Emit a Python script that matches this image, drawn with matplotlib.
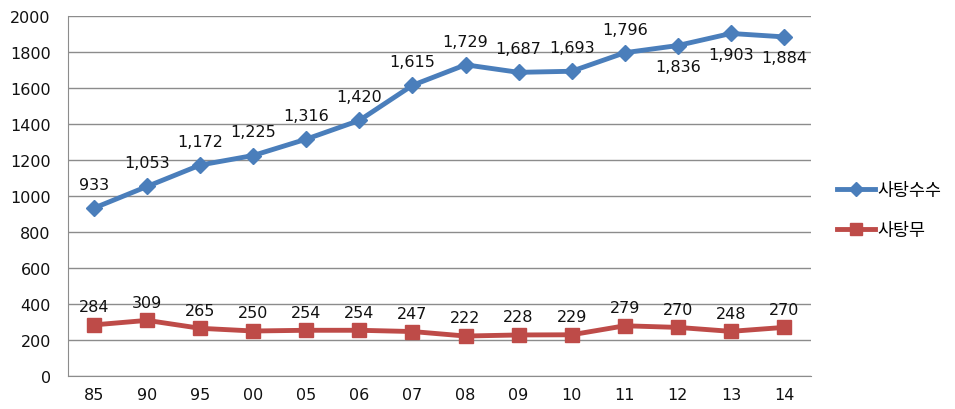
import matplotlib
matplotlib.use("Agg")
import matplotlib.pyplot as plt
from matplotlib.lines import Line2D
import numpy as np

plt.rcParams['font.family'] = ['DejaVu Sans', 'Noto Sans CJK KR']

years = ["85", "90", "95", "00", "05", "06", "07", "08", "09", "10", "11", "12", "13", "14"]
sugarcane = [933, 1053, 1172, 1225, 1316, 1420, 1615, 1729, 1687, 1693, 1796, 1836, 1903, 1884]
sugarbeet = [284, 309, 265, 250, 254, 254, 247, 222, 228, 229, 279, 270, 248, 270]
# labels drawn under the point instead of above it
below = {"12", "13", "14"}

blue = "#4a7ebb"
red = "#be4b48"

fig = plt.figure(figsize=(9.55, 4.10), dpi=100)
ax = fig.add_axes([67.5 / 955, 33 / 410, (810.5 - 67.5) / 955, 360 / 410])

x = np.arange(len(years))
ax.plot(x, sugarcane, color=blue, lw=3.5, marker="D", ms=8, zorder=3)
ax.plot(x, sugarbeet, color=red, lw=3.5, marker="s", ms=10, zorder=3)

for xi, yr, v in zip(x, years, sugarcane):
    off = -15 if yr in below else 17
    ax.annotate(f"{v:,}", (xi, v), xytext=(0, off), textcoords="offset points",
                ha="center", va="center", fontsize=11.5, color="#111111")
for xi, v in zip(x, sugarbeet):
    ax.annotate(f"{v:,}", (xi, v), xytext=(0, 13), textcoords="offset points",
                ha="center", va="center", fontsize=11.5, color="#111111")

ax.set_xlim(-0.5, len(years) - 0.5)
ax.set_ylim(0, 2000)
ax.set_yticks(range(0, 2001, 200))
ax.set_xticks(x, years)
ax.grid(axis="y", color="#8c8c8c", lw=1, zorder=0)
ax.set_axisbelow(True)
for s in ["top", "right"]:
    ax.spines[s].set_visible(False)
for s in ["left", "bottom"]:
    ax.spines[s].set_color("#8c8c8c")
ax.tick_params(axis="both", length=0, labelsize=11.5, colors="#111111")
ax.tick_params(axis="y", pad=12)
ax.tick_params(axis="x", pad=8)

handles = [
    Line2D([], [], color=blue, lw=3.5, marker="D", ms=7),
    Line2D([], [], color=red, lw=3.5, marker="s", ms=9),
]
fig.legend(handles, ["사탕수수", "사탕무"], loc="center left",
           bbox_to_anchor=(837 / 955, 1 - 211 / 410), frameon=False,
           prop={"family": "Noto Sans CJK KR", "size": 12.5},
           borderpad=0, borderaxespad=0,
           handlelength=2.2, handletextpad=0.15, labelspacing=1.3)

fig.savefig("out.png", dpi=100)
